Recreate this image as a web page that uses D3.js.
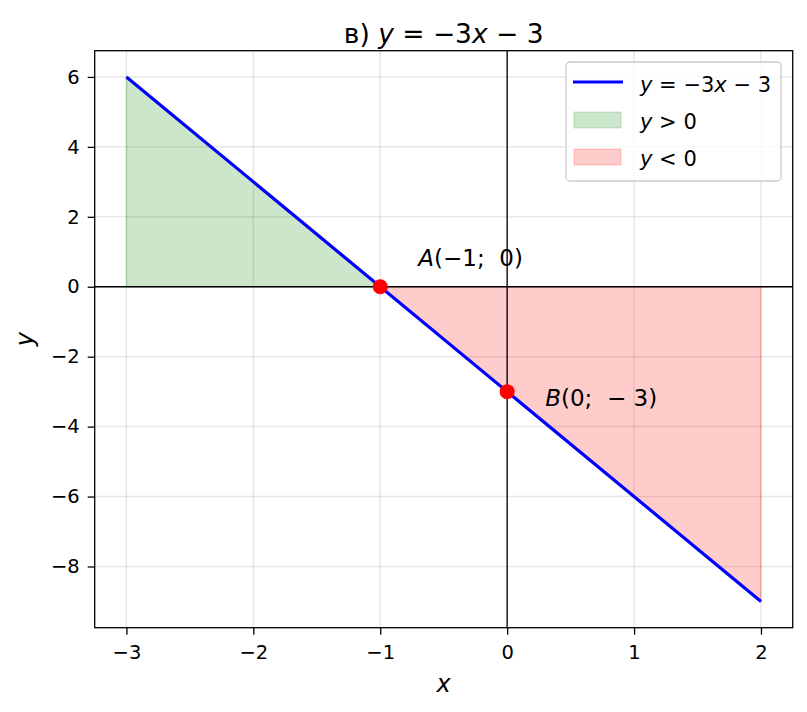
<!DOCTYPE html>
<html>
<head>
<meta charset="utf-8">
<script src="https://cdn.jsdelivr.net/npm/d3@7"></script>
<style>
  body { margin: 0; background: #fff; }
  text { font-family: "DejaVu Sans", sans-serif; fill: #000; }
</style>
</head>
<body>
<div id="chart"></div>
<script>
// line y = -3x - 3 sampled at its ends
let lineX = [-3, 2];
let lineY = [6, -9];
// filled regions
let posArea = [[-3, 6], [-1, 0]];
let negArea = [[-1, 0], [2, -9]];
// labelled points
let points = [
    {x: -1, y: 0, label: ["A", "(−1;  0)"], dx: 0.3, dy: 0.6},
    {x: 0, y: -3, label: ["B", "(0;  − 3)"], dx: 0.3, dy: -0.4}
];
let xTicks = [-3, -2, -1, 0, 1, 2];
let yTicks = [-8, -6, -4, -2, 0, 2, 4, 6];

let width = 807, height = 712;
let margin = {top: 50.7, right: 14.3, bottom: 84.3, left: 94.7};

let svg = d3.select("#chart").append("svg")
    .attr("width", width)
    .attr("height", height);

let x = d3.scaleLinear().domain([-3.25, 2.25]).range([margin.left, width - margin.right]);
let y = d3.scaleLinear().domain([-9.75, 6.75]).range([height - margin.bottom, margin.top]);

// grid
svg.append("g").selectAll("line").data(xTicks).enter().append("line")
    .attr("x1", d => x(d)).attr("x2", d => x(d))
    .attr("y1", margin.top).attr("y2", height - margin.bottom)
    .attr("stroke", "#b0b0b0").attr("stroke-opacity", 0.3).attr("stroke-width", 1.5);
svg.append("g").selectAll("line").data(yTicks).enter().append("line")
    .attr("y1", d => y(d)).attr("y2", d => y(d))
    .attr("x1", margin.left).attr("x2", width - margin.right)
    .attr("stroke", "#b0b0b0").attr("stroke-opacity", 0.3).attr("stroke-width", 1.5);

// fills
let area = d3.area().x(d => x(d[0])).y0(y(0)).y1(d => y(d[1]));
svg.append("path").datum(posArea).attr("d", area)
    .attr("fill", "green").attr("fill-opacity", 0.2)
    .attr("stroke", "green").attr("stroke-opacity", 0.2).attr("stroke-width", 1.5);
svg.append("path").datum(negArea).attr("d", area)
    .attr("fill", "red").attr("fill-opacity", 0.2)
    .attr("stroke", "red").attr("stroke-opacity", 0.2).attr("stroke-width", 1.5);

// axes through origin
svg.append("line").attr("x1", margin.left).attr("x2", width - margin.right)
    .attr("y1", y(0)).attr("y2", y(0)).attr("stroke", "#000").attr("stroke-width", 1.3);
svg.append("line").attr("x1", x(0)).attr("x2", x(0))
    .attr("y1", margin.top).attr("y2", height - margin.bottom).attr("stroke", "#000").attr("stroke-width", 1.3);

// main line
svg.append("path").datum(d3.zip(lineX, lineY))
    .attr("d", d3.line().x(d => x(d[0])).y(d => y(d[1])))
    .attr("fill", "none").attr("stroke", "blue").attr("stroke-width", 3.2);

// points
svg.selectAll("circle").data(points).enter().append("circle")
    .attr("cx", d => x(d.x)).attr("cy", d => y(d.y)).attr("r", 7.5)
    .attr("fill", "red");

let labels = svg.selectAll(".lbl").data(points).enter().append("text")
    .attr("class", "lbl")
    .attr("x", d => x(d.x + d.dx)).attr("y", d => y(d.y + d.dy))
    .attr("font-size", 23)
    .style("white-space", "pre");
labels.append("tspan").attr("font-style", "italic").text(d => d.label[0]);
labels.append("tspan").text(d => d.label[1]);

// frame
svg.append("rect").attr("x", margin.left).attr("y", margin.top)
    .attr("width", width - margin.left - margin.right)
    .attr("height", height - margin.top - margin.bottom)
    .attr("fill", "none").attr("stroke", "#000").attr("stroke-width", 1.3);

// axes ticks
let fmt = d => d < 0 ? "−" + Math.abs(d) : d;
let xAxis = svg.append("g").attr("transform", `translate(0,${height - margin.bottom})`)
    .call(d3.axisBottom(x).tickValues(xTicks).tickSize(7).tickPadding(10).tickFormat(fmt));
let yAxis = svg.append("g").attr("transform", `translate(${margin.left},0)`)
    .call(d3.axisLeft(y).tickValues(yTicks).tickSize(7).tickPadding(8).tickFormat(fmt));
[xAxis, yAxis].forEach(a => {
    a.select(".domain").remove();
    a.selectAll(".tick line").attr("stroke", "#000").attr("stroke-width", 1.3);
    a.selectAll(".tick text").attr("font-size", 19.5).attr("font-family", "DejaVu Sans").attr("fill", "#000");
});

// axis labels
svg.append("text").attr("x", x(-0.5)).attr("y", 692)
    .attr("text-anchor", "middle").attr("font-size", 24).attr("font-style", "italic").text("x");
svg.append("text").attr("transform", `translate(33,${y(-1.5)}) rotate(-90)`)
    .attr("text-anchor", "middle").attr("font-size", 24).attr("font-style", "italic").text("y");

// title
let title = svg.append("text").attr("x", x(-0.5)).attr("y", 43)
    .attr("text-anchor", "middle").attr("font-size", 26.5);
title.append("tspan").text("в) ");
title.append("tspan").attr("font-style", "italic").text("y");
title.append("tspan").text(" = −3");
title.append("tspan").attr("font-style", "italic").text("x");
title.append("tspan").text(" − 3");

// legend
let lg = svg.append("g").attr("transform", "translate(566,62)");
lg.append("rect").attr("width", 215).attr("height", 119).attr("rx", 4)
    .attr("fill", "#fff").attr("fill-opacity", 0.8).attr("stroke", "#cccccc").attr("stroke-width", 1.3);
lg.append("line").attr("x1", 7).attr("x2", 57).attr("y1", 20).attr("y2", 20)
    .attr("stroke", "blue").attr("stroke-width", 3.2);
lg.append("rect").attr("x", 8).attr("y", 50).attr("width", 47).attr("height", 16)
    .attr("fill", "green").attr("fill-opacity", 0.2).attr("stroke", "green").attr("stroke-opacity", 0.2);
lg.append("rect").attr("x", 8).attr("y", 87).attr("width", 47).attr("height", 16)
    .attr("fill", "red").attr("fill-opacity", 0.2).attr("stroke", "red").attr("stroke-opacity", 0.2);

let legendItems = [
    [["y", true], [" = −3", false], ["x", true], [" − 3", false]],
    [["y", true], [" > 0", false]],
    [["y", true], [" < 0", false]]
];
legendItems.forEach((parts, i) => {
    let t = lg.append("text").attr("x", 74).attr("y", 30 + i * 37).attr("font-size", 21);
    parts.forEach(p => t.append("tspan").attr("font-style", p[1] ? "italic" : null).text(p[0]));
});
</script>
</body>
</html>
